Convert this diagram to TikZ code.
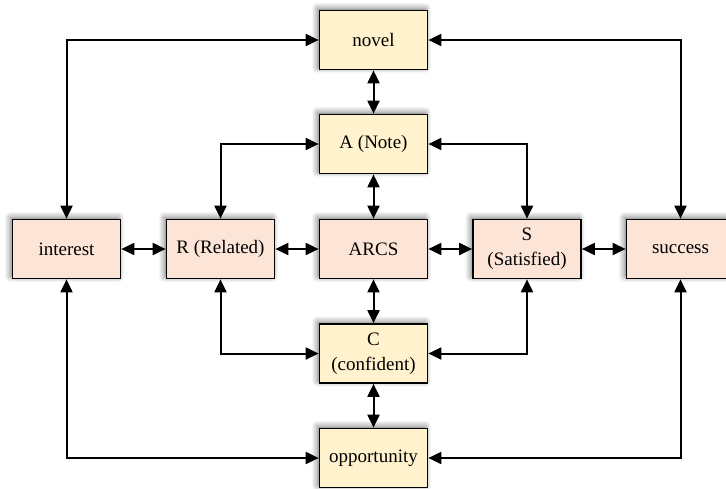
\documentclass[tikz,border=0pt]{standalone}
\usepackage{fontspec}
\setmainfont{Liberation Serif}
\usepackage{xcolor}
\usetikzlibrary{arrows.meta, positioning, shadows.blur}

\definecolor{boxyellow}{RGB}{255,242,204}
\definecolor{boxpeach}{RGB}{252,228,214}

\tikzset{
  box/.style={draw=black, line width=1.7pt, minimum width=108pt, minimum height=59pt,
    inner sep=0pt, align=center, font=\fontsize{19}{25}\selectfont,
    blur shadow={shadow xshift=-2pt, shadow yshift=2pt, shadow blur radius=6pt,
      shadow blur steps=8, shadow opacity=55}},
  ybox/.style={box, fill=boxyellow},
  pbox/.style={box, fill=boxpeach},
  link/.style={line width=2pt, {Triangle[length=13pt,width=12pt]}-{Triangle[length=13pt,width=12pt]}}
}

\begin{document}
\begin{tikzpicture}[x=1pt, y=-1pt]
  \useasboundingbox (0,0) rectangle (726,488);

  % top and bottom column
  \node[ybox] (novel) at (373.5,40) {novel};
  \node[ybox] (note) at (373.5,144) {A (Note)};
  \node[ybox] (conf) at (373.5,353.5) {C\\(confident)};
  \node[ybox] (opp) at (373.5,458) {opportunity};

  % middle row
  \node[pbox] (interest) at (66.5,249) {interest};
  \node[pbox] (rel) at (220.5,249) {R (Related)};
  \node[pbox] (arcs) at (373.5,249) {ARCS};
  \node[pbox] (sat) at (527,249) {S\\(Satisfied)};
  \node[pbox] (succ) at (680.5,249) {success};

  \draw[link] (interest.north) |- (novel.west);
  \draw[link] (succ.north) |- (novel.east);
  \draw[link] (novel.south) -- (note.north);
  \draw[link] (rel.north) |- (note.west);
  \draw[link] (sat.north) |- (note.east);
  \draw[link] (note.south) -- (arcs.north);

  \draw[link] (interest.east) -- (rel.west);
  \draw[link] (rel.east) -- (arcs.west);
  \draw[link] (arcs.east) -- (sat.west);
  \draw[link] (sat.east) -- (succ.west);

  \draw[link] (arcs.south) -- (conf.north);
  \draw[link] (rel.south) |- (conf.west);
  \draw[link] (sat.south) |- (conf.east);
  \draw[link] (conf.south) -- (opp.north);
  \draw[link] (interest.south) |- (opp.west);
  \draw[link] (succ.south) |- (opp.east);
\end{tikzpicture}
\end{document}
